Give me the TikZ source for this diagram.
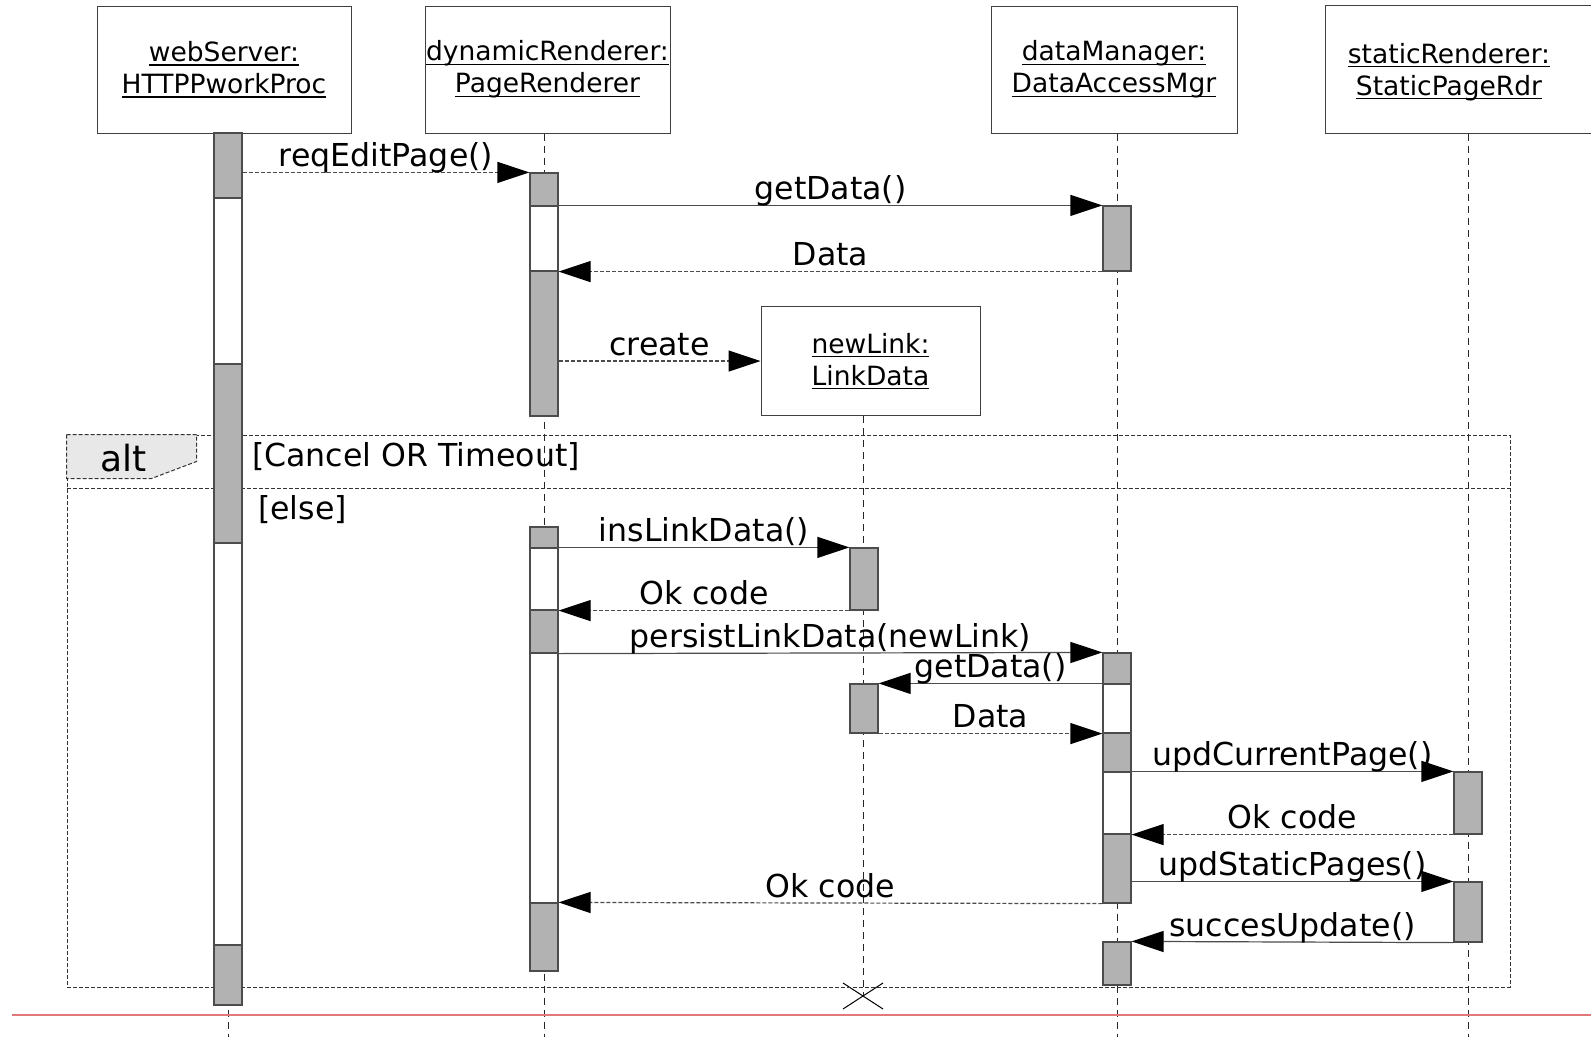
\documentclass[tikz,border=0pt]{standalone}
\usepackage{fontspec}
\setmainfont{DejaVu Sans}
\usetikzlibrary{arrows.meta}
\definecolor{cutred}{RGB}{224,122,122}
\newcommand{\uln}[1]{\setbox0\hbox{#1}\rlap{\rule[-4pt]{\wd0}{1.1pt}}\box0}
\newcommand{\actseg}[5]{\node[actbar,#5,minimum height={(#4)-(#3)}] (#1) at (#2,{((#3)+(#4))/2}) {};}
\tikzset{
  head/.style={draw=black!75, line width=1pt, fill=white, inner sep=0pt, align=center,
    font=\fontsize{26.5}{32}\selectfont},
  headtext/.style={align=center, inner sep=0pt, font=\fontsize{26.5}{32}\selectfont},
  lifeline/.style={draw=black!85, line width=1pt, dash pattern=on 7pt off 5pt},
  actbar/.style={draw=black!70, line width=1.2pt, fill=black!30, minimum width=28pt, inner sep=0pt},
  idle/.style={fill=white},
  call/.style={draw=black!70, line width=1.2pt, -{Triangle[length=32pt,width=21pt,black]}},
  reply/.style={call, dash pattern=on 4pt off 2pt},
  msg/.style={font=\fontsize{31.6}{36}\selectfont, anchor=base, yshift=6pt, inner sep=0pt},
  frame/.style={draw=black!80, line width=1pt, dash pattern=on 4pt off 2pt},
}
\begin{document}
\begin{tikzpicture}[x=1pt, y=-1pt]
        \path[use as bounding box, fill=white] (0,0) rectangle (1591,1037);

        \node[head, minimum width=254pt, minimum height=127pt] (webServer) at (224,69.5)
            {\uln{webServer:}\\\uln{HTTPPworkProc}};
        \node[head, minimum width=245pt, minimum height=127pt] (dynamicRenderer) at (547.5,69.5)
            {\uln{dynamicRenderer:}\\\uln{PageRenderer}};
        \node[head, minimum width=246pt, minimum height=127pt] (dataManager) at (1114,69.5)
            {\uln{dataManager:}\\\uln{DataAccessMgr}};
        % cut off by the right edge
        \node[head, draw=none, minimum width=265pt, minimum height=127pt] (staticRenderer) at (1458.5,69.5) {};
        \draw[draw=black!75, line width=1pt] (staticRenderer.north east) -- (staticRenderer.north west)
            -- (staticRenderer.south west) -- (staticRenderer.south east);
        \node[headtext] (staticRendererName) at (1449,72)
            {\uln{staticRenderer:}\\\uln{StaticPageRdr}};

        \coordinate (wsBottom) at (228,1037);
        \coordinate (drBottom) at (544,1037);
        \coordinate (dmBottom) at (1117,1037);
        \coordinate (srBottom) at (1468,1037);
        \coordinate (nlEnd) at (863,996);
        \draw[lifeline] (webServer.south -| wsBottom) -- (wsBottom);
        \draw[lifeline] (dynamicRenderer.south -| drBottom) -- (drBottom);
        \draw[lifeline] (dataManager.south -| dmBottom) -- (dmBottom);
        \draw[lifeline] (staticRenderer.south -| srBottom) -- (srBottom);

        \node[head, minimum width=219pt, minimum height=109pt] (newLink) at (870.5,361)
            {\uln{newLink:}\\\uln{LinkData}};
        \draw[lifeline] (newLink.south -| nlEnd) -- (nlEnd);
        \draw[line width=1pt] (nlEnd) ++(-20,-13) -- ++(40,26) (nlEnd) ++(20,-13) -- ++(-40,26);

        % alt fragment
        \node[frame, minimum width=1443pt, minimum height=552pt, inner sep=0pt] (altFrame) at (788.5,711) {};
        \coordinate (split) at (67,488);
        \draw[frame] (split) -- (split -| altFrame.east);
        \draw[frame, fill=black!9] (altFrame.north west) -- ++(130,0) -- ++(0,27) -- ++(-45,17) -- ++(-85,0) -- cycle;
        \node[font=\fontsize{36}{40}\selectfont, anchor=base] (altName) at (124,471) {alt};
        \node[msg, anchor=base west, yshift=0pt] (guardCancel) at (252,472) {[Cancel OR Timeout]};
        \node[msg, anchor=base west, yshift=0pt] (guardElse) at (258,525) {[else]};

        \actseg{ws1}{228}{133}{198}{}
        \actseg{ws2}{228}{198}{364}{idle}
        \actseg{ws3}{228}{364}{543}{}
        \actseg{ws4}{228}{543}{945}{idle}
        \actseg{ws5}{228}{945}{1005}{}

        \actseg{dr1}{544}{173}{206}{}
        \actseg{dr2}{544}{206}{271}{idle}
        \actseg{dr3}{544}{271}{416}{}
        \actseg{dr4}{544}{527}{548}{}
        \actseg{dr5}{544}{548}{610}{idle}
        \actseg{dr6}{544}{610}{653}{}
        \actseg{dr7}{544}{653}{903}{idle}
        \actseg{dr8}{544}{903}{971}{}

        \actseg{dm1}{1117}{206}{271}{}
        \actseg{dm2}{1117}{653}{684}{}
        \actseg{dm3}{1117}{684}{733}{idle}
        \actseg{dm4}{1117}{733}{772}{}
        \actseg{dm5}{1117}{772}{834}{idle}
        \actseg{dm6}{1117}{834}{903}{}
        \actseg{dm7}{1117}{942}{985}{}

        \actseg{nl1}{864}{548}{610}{}
        \actseg{nl2}{864}{684}{733}{}

        \actseg{sr1}{1468}{772}{834}{}
        \actseg{sr2}{1468}{882}{942}{}

        \draw[reply] (ws1.east |- dr1.north) -- (dr1.north west) node[msg, midway] {reqEditPage()};
        \draw[call] (dr2.north east) -- (dm1.north west) node[msg, midway] {getData()};
        \draw[reply] (dm1.south west) -- (dr2.south east) node[msg, midway] {Data};
        \draw[reply] (dr3.east |- newLink.west) -- (newLink.west) node[msg, midway] {create};
        \draw[call] (dr5.north east) -- (nl1.north west) node[msg, midway] {insLinkData()};
        \draw[reply] (nl1.south west) -- (dr5.south east) node[msg, midway] {Ok code};
        \draw[call] (dr6.south east) -- (dm2.north west) node[msg, midway] {persistLinkData(newLink)};
        \draw[call] (dm3.north west) -- (nl2.north east) node[msg, midway] {getData()};
        \draw[reply] (nl2.south east) -- (dm3.south west) node[msg, midway] {Data};
        \draw[call] (dm5.north east) -- (sr1.north west) node[msg, midway] {updCurrentPage()};
        \draw[reply] (sr1.south west) -- (dm5.south east) node[msg, midway] {Ok code};
        \draw[call] (dm6.east |- sr2.north) -- (sr2.north west) node[msg, midway] {updStaticPages()};
        \draw[reply] (dm6.south west) -- (dr8.north east) node[msg, midway] {Ok code};
        \draw[call] (sr2.south west) -- (dm7.north east) node[msg, midway] {succesUpdate()};

        \coordinate (cutLeft) at (12,1015);
        \coordinate (cutRight) at (1591,1015);
        \draw[cutred, line width=2.5pt] (cutLeft) -- (cutRight);
\end{tikzpicture}
\end{document}
